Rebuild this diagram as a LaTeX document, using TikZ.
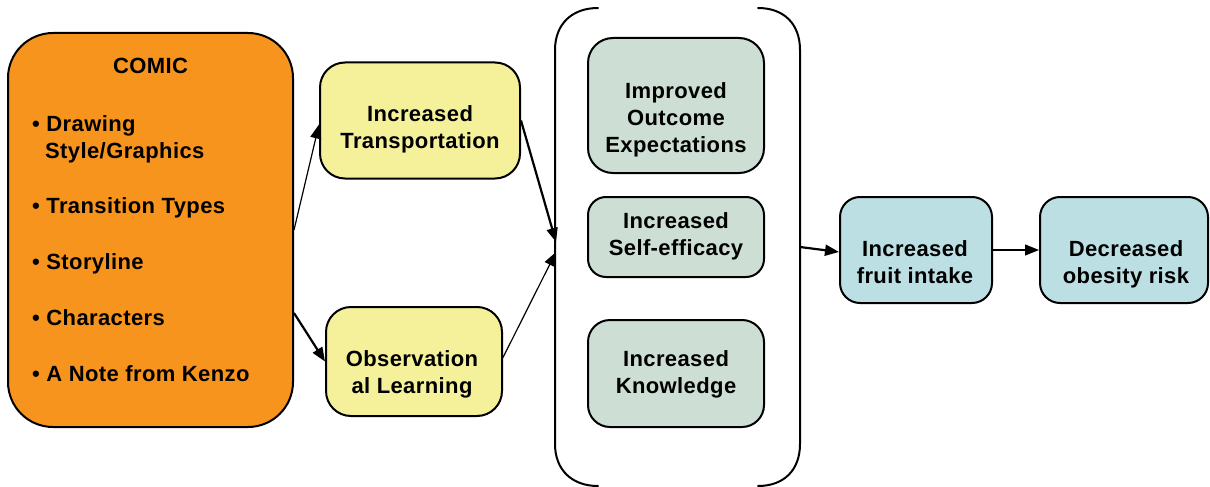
\documentclass[tikz,border=0pt]{standalone}
\usepackage{fontspec}
\setmainfont[LetterSpace=1.8]{Liberation Sans}
\usetikzlibrary{arrows.meta}
\definecolor{comicorange}{RGB}{247,148,30}
\definecolor{medyellow}{RGB}{245,241,155}
\definecolor{medgreen}{RGB}{205,223,212}
\definecolor{outblue}{RGB}{187,223,227}
\tikzset{
  box/.style={draw=black, line width=2pt, inner sep=0pt},
  txt/.style={inner sep=0pt, align=center, font=\bfseries\fontsize{22}{27}\selectfont},
  itm/.style={inner sep=0pt, anchor=base west, font=\bfseries\fontsize{22}{27}\selectfont},
  thinarr/.style={line width=1.2pt, -{Triangle[length=14pt,width=11pt]}},
  thickarr/.style={line width=2.2pt, -{Triangle[length=14pt,width=11pt]}},
  brk/.style={line width=2pt, line cap=round}
}
\begin{document}
\begin{tikzpicture}[x=1pt,y=-1pt]
\useasboundingbox (0,0) rectangle (1210,487);
% COMIC box
\node[box, fill=comicorange, rounded corners=45pt, minimum width=285pt, minimum height=394pt] (comic) at (150.5,230) {};
\node[inner sep=0pt, anchor=base, font=\bfseries\fontsize{22}{27}\selectfont] (comictitle) at (150.5,74) {COMIC};
\node[itm] (i1) at (32,131) {\textbullet\ Drawing};
\node[itm] (i1b) at (45,158) {Style/Graphics};
\node[itm] (i2) at (32,213) {\textbullet\ Transition Types};
\node[itm] (i3) at (32,269) {\textbullet\ Storyline};
\node[itm] (i4) at (32,325) {\textbullet\ Characters};
\node[itm] (i5) at (32,381) {\textbullet\ A Note from Kenzo};
% yellow boxes
\node[box, fill=medyellow, rounded corners=25pt, minimum width=200pt, minimum height=116pt] (trans) at (420,120.5) {};
\node[txt] (transt) at (420,129.3) {Increased\\Transportation};
\node[box, fill=medyellow, rounded corners=25pt, minimum width=176pt, minimum height=109pt] (obs) at (414,361.5) {};
\node[txt] (obst) at (412,374.3) {Observation\\al Learning};
% bracket
\draw[brk] (598,8) .. controls (572,8) and (555,24) .. (555,50) -- (555,444) .. controls (555,470) and (572,486) .. (598,486);
\draw[brk] (758,8) .. controls (784,8) and (800,24) .. (800,50) -- (800,444) .. controls (800,470) and (784,486) .. (758,486);
\coordinate (inTop) at (556,242);
\coordinate (inBot) at (556,252);
\coordinate (outR) at (800,247);
% green boxes
\node[box, fill=medgreen, rounded corners=25pt, minimum width=176pt, minimum height=135pt] (g1) at (676,105.5) {};
\node[txt] (g1t) at (676,119.8) {Improved\\Outcome\\Expectations};
\node[box, fill=medgreen, rounded corners=18pt, minimum width=176pt, minimum height=80pt] (g2) at (676,237) {};
\node[txt] (g2t) at (676,236.3) {Increased\\Self-efficacy};
\node[box, fill=medgreen, rounded corners=22pt, minimum width=176pt, minimum height=107pt] (g3) at (676,373.5) {};
\node[txt] (g3t) at (676,374.8) {Increased\\Knowledge};
% blue boxes
\node[box, fill=outblue, rounded corners=20pt, minimum width=152pt, minimum height=106pt] (b1) at (916,250) {};
\node[txt] (b1t) at (915,262.5) {Increased\\fruit intake};
\node[box, fill=outblue, rounded corners=20pt, minimum width=168pt, minimum height=106pt] (b2) at (1124,250) {};
\node[txt] (b2t) at (1126,264.8) {Decreased\\obesity risk};
% connectors
\draw[thinarr] (comic.east) -- ([yshift=-4pt]trans.west);
\draw[thickarr] ([yshift=-83pt]comic.east) -- (obs.west);
\draw[thickarr] (trans.east) -- (inTop);
\draw[thinarr] ([yshift=4pt]obs.east) -- (inBot);
\draw[thickarr] (outR) -- ([yshift=-2pt]b1.west);
\draw[thinarr] (b1.east) -- (b2.west);
\end{tikzpicture}
\end{document}
